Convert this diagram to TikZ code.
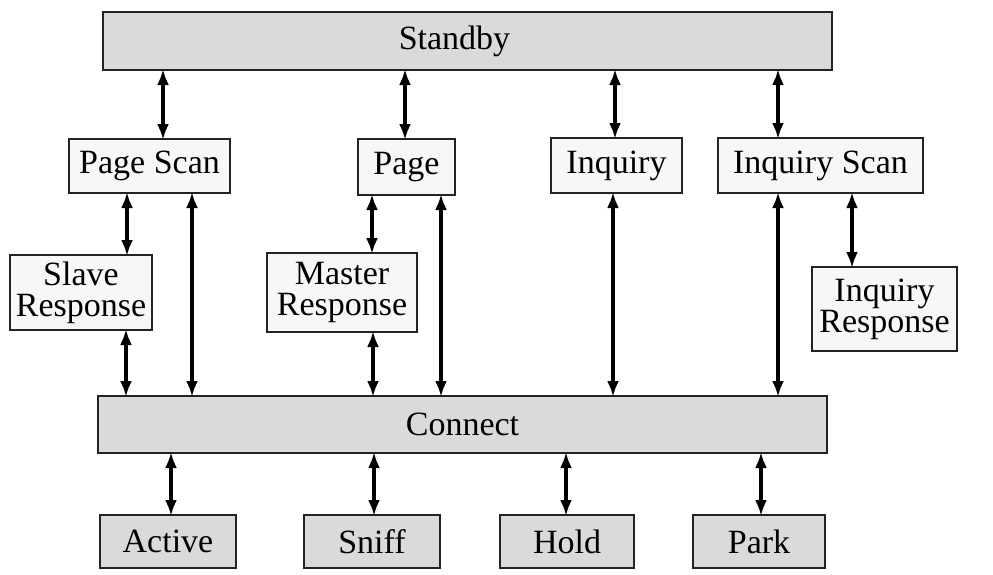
\documentclass[tikz,border=0pt]{standalone}
\usepackage{fontspec}
\setmainfont{Liberation Serif}
\usepackage{tikz}
\usetikzlibrary{positioning, arrows.meta}
\definecolor{StateGray}{RGB}{218, 218, 218}
\definecolor{StateWhite}{RGB}{247, 247, 247}
\definecolor{EdgeDark}{RGB}{35, 35, 35}

\begin{document}
\begin{tikzpicture}[x=1pt, y=-1pt,
    state/.style={draw=EdgeDark, line width=2.4pt, inner sep=0pt, outer sep=0pt, align=center,
                  font=\fontsize{34}{31}\selectfont},
    major/.style={state, fill=StateGray},
    minor/.style={state, fill=StateWhite},
    link/.style={{Latex[length=16pt, width=12pt]}-{Latex[length=16pt, width=12pt]},
                 line width=3.8pt, black, shorten <=-1pt, shorten >=-1pt}]
      \useasboundingbox (0,0) rectangle (993,574);
      \fill[white] (0,0) rectangle (993,574);

      % Top and middle bars
      \node[major, minimum width=729, minimum height=58] (standby) at (467.5,41) {\hspace*{-26pt}Standby};
      \node[major, minimum width=729, minimum height=57] (connect) at (462.5,424.5) {Connect};

      % Setup states
      \node[minor, minimum width=161, minimum height=54] (pagescan) at (149.5,166) {Page Scan};
      \node[minor, minimum width=97, minimum height=56] (page) at (406.5,167) {Page};
      \node[minor, minimum width=131, minimum height=55] (inquiry) at (616.5,165.5) {Inquiry};
      \node[minor, minimum width=205, minimum height=55] (inqscan) at (820.5,165.5) {Inquiry Scan};

      % Response states
      \node[minor, minimum width=142, minimum height=75] (slaveresp) at (81,292.5) {Slave\\Response};
      \node[minor, minimum width=150, minimum height=79] (masterresp) at (342,292.5) {Master\\Response};
      \node[minor, minimum width=145, minimum height=84] (inqresp) at (884.5,309) {Inquiry\\Response};

      % Connection modes
      \foreach \name/\label/\x/\w in {active/Active/168/136, sniff/Sniff/372/136,
                                      hold/Hold/567/134, park/Park/759/132} {
        \node[major, minimum width=\w, minimum height=53] (\name) at (\x,541.5) {\label};
      }

      % Transitions
      \foreach \x/\a/\b in {163/standby/pagescan, 405/standby/page, 615/standby/inquiry,
                            778/standby/inqscan, 171/connect/active, 374/connect/sniff,
                            566/connect/hold, 761/connect/park} {
        \draw[link] (\a.south -| \x,0) -- (\b.north -| \x,0);
      }
      \foreach \x/\a/\b in {127/slaveresp/pagescan, 372/masterresp/page, 852/inqresp/inqscan,
                            126/connect/slaveresp, 373/connect/masterresp, 192/connect/pagescan,
                            441/connect/page, 613/connect/inquiry, 778/connect/inqscan} {
        \draw[link] (\a.north -| \x,0) -- (\b.south -| \x,0);
      }
    \end{tikzpicture}
\end{document}
